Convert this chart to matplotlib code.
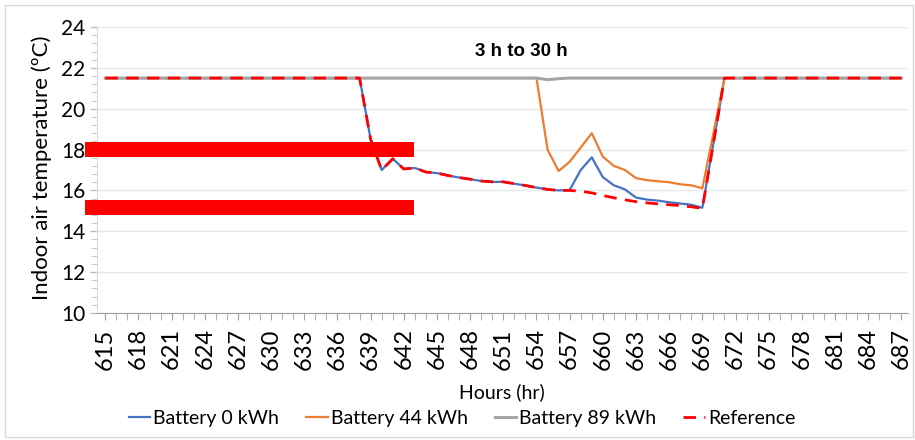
import matplotlib
matplotlib.use("Agg")
import matplotlib.pyplot as plt
from matplotlib.patches import Rectangle
import numpy as np

plt.rcParams['font.family'] = ['Lato', 'DejaVu Sans']

# hourly data, 615 h to 687 h
hours = np.arange(615, 688)

battery_0 = [
    21.5, 21.5, 21.5, 21.5, 21.5, 21.5, 21.5, 21.5, 21.5, 21.5, 21.5, 21.5,   # 615-626
    21.5, 21.5, 21.5, 21.5, 21.5, 21.5, 21.5, 21.5, 21.5, 21.5, 21.5, 21.5,   # 627-638
    18.5, 17.0, 17.55, 17.05, 17.1, 16.9, 16.85, 16.73, 16.63, 16.55, 16.46,  # 639-649
    16.42, 16.42, 16.33, 16.24, 16.14, 16.05, 16.0, 16.02, 17.0, 17.62,       # 650-659
    16.65, 16.25, 16.05, 15.65, 15.55, 15.5, 15.42, 15.36, 15.3, 15.15,       # 660-669
    18.3, 21.5, 21.5, 21.5, 21.5, 21.5, 21.5, 21.5, 21.5, 21.5,               # 670-679
    21.5, 21.5, 21.5, 21.5, 21.5, 21.5, 21.5, 21.5,                           # 680-687
]
battery_44 = [
    21.5, 21.5, 21.5, 21.5, 21.5, 21.5, 21.5, 21.5, 21.5, 21.5, 21.5, 21.5,   # 615-626
    21.5, 21.5, 21.5, 21.5, 21.5, 21.5, 21.5, 21.5, 21.5, 21.5, 21.5, 21.5,   # 627-638
    21.5, 21.5, 21.5, 21.5, 21.5, 21.5, 21.5, 21.5, 21.5, 21.5, 21.5,         # 639-649
    21.5, 21.5, 21.5, 21.5, 21.5, 18.0, 16.95, 17.4, 18.1, 18.8,              # 650-659
    17.65, 17.2, 17.0, 16.6, 16.5, 16.45, 16.4, 16.3, 16.25, 16.1,            # 660-669
    18.8, 21.5, 21.5, 21.5, 21.5, 21.5, 21.5, 21.5, 21.5, 21.5,               # 670-679
    21.5, 21.5, 21.5, 21.5, 21.5, 21.5, 21.5, 21.5,                           # 680-687
]
battery_89 = [
    21.5, 21.5, 21.5, 21.5, 21.5, 21.5, 21.5, 21.5, 21.5, 21.5, 21.5, 21.5,   # 615-626
    21.5, 21.5, 21.5, 21.5, 21.5, 21.5, 21.5, 21.5, 21.5, 21.5, 21.5, 21.5,   # 627-638
    21.5, 21.5, 21.5, 21.5, 21.5, 21.5, 21.5, 21.5, 21.5, 21.5, 21.5,         # 639-649
    21.5, 21.5, 21.5, 21.5, 21.5, 21.42, 21.47, 21.5, 21.5, 21.5,             # 650-659
    21.5, 21.5, 21.5, 21.5, 21.5, 21.5, 21.5, 21.5, 21.5, 21.5,               # 660-669
    21.5, 21.5, 21.5, 21.5, 21.5, 21.5, 21.5, 21.5, 21.5, 21.5,               # 670-679
    21.5, 21.5, 21.5, 21.5, 21.5, 21.5, 21.5, 21.5,                           # 680-687
]
reference = [
    21.5, 21.5, 21.5, 21.5, 21.5, 21.5, 21.5, 21.5, 21.5, 21.5, 21.5, 21.5,   # 615-626
    21.5, 21.5, 21.5, 21.5, 21.5, 21.5, 21.5, 21.5, 21.5, 21.5, 21.5, 21.5,   # 627-638
    18.5, 17.0, 17.55, 17.05, 17.1, 16.9, 16.85, 16.73, 16.63, 16.55, 16.46,  # 639-649
    16.42, 16.42, 16.33, 16.24, 16.14, 16.05, 16.0, 16.0, 15.96, 15.88,       # 650-659
    15.75, 15.64, 15.54, 15.45, 15.39, 15.34, 15.3, 15.26, 15.2, 15.12,       # 660-669
    18.3, 21.5, 21.5, 21.5, 21.5, 21.5, 21.5, 21.5, 21.5, 21.5,               # 670-679
    21.5, 21.5, 21.5, 21.5, 21.5, 21.5, 21.5, 21.5,                           # 680-687
]

# red highlight bars (temperature levels) and annotation
bar_levels = [18.0, 15.15]
bar_span = (613.2, 642.9)
note_text = "3 h to 30 h"

fig = plt.figure(figsize=(9.15, 4.4), dpi=100)
ax = fig.add_axes([97 / 915, 127 / 440, 811 / 915, 286 / 440])

ax.plot(hours, battery_0, color='#4472C4', lw=1.6, label='Battery 0 kWh', zorder=3)
ax.plot(hours, battery_44, color='#ED7D31', lw=1.6, label='Battery 44 kWh', zorder=4)
ax.plot(hours, battery_89, color='#A5A5A5', lw=2.2, label='Battery 89 kWh', zorder=5)
ax.plot(hours, reference, color='#FF0000', lw=2.0, ls=(0, (4.5, 3)), label='Reference', zorder=6)

for lvl in bar_levels:
    ax.add_patch(Rectangle((bar_span[0], lvl - 0.37), bar_span[1] - bar_span[0], 0.74,
                           facecolor='#FF0000', edgecolor='none', clip_on=False, zorder=7))

ax.text(652.6, 22.8, note_text, fontsize=13.5, fontweight='bold',
        family=['Liberation Sans', 'DejaVu Sans'], ha='center', va='center')

ax.set_xlim(614.25, 687.6)
ax.set_ylim(10, 24)
ax.set_xticks(np.arange(615, 688, 3))
ax.set_xticks(np.arange(615, 688, 1), minor=True)
ax.set_xticklabels([str(h) for h in range(615, 688, 3)], rotation=90, fontsize=17)
ax.set_yticks(np.arange(10, 25, 2))
ax.set_yticks(np.arange(10, 24.01, 0.4), minor=True)
ax.tick_params(axis='y', labelsize=15, length=5, color='#BFBFBF', width=1)
ax.tick_params(axis='y', which='minor', length=4, color='#BFBFBF')
ax.tick_params(axis='x', which='both', length=5, color='#A0A0A0', pad=6)
ax.grid(axis='y', color='#E8E8E8', lw=1)
ax.set_axisbelow(True)
for s in ['top', 'right']:
    ax.spines[s].set_visible(False)
ax.spines['left'].set_color('#D9D9D9')
ax.spines['bottom'].set_color('#A0A0A0')

fig.text(42 / 915, 1 - 168 / 440, 'Indoor air temperature (ºC)', rotation=90,
         fontsize=16, ha='center', va='center')
fig.text(502 / 915, 1 - 392 / 440, 'Hours (hr)', fontsize=14, ha='center', va='center')

fig.legend(loc='center', bbox_to_anchor=(462 / 915, 1 - 418 / 440), ncol=4, frameon=False,
           fontsize=14, handlelength=1.1, handletextpad=0.15, columnspacing=1.4)

fig.add_artist(Rectangle((5 / 915, 3 / 440), 908 / 915, 432 / 440, transform=fig.transFigure,
                         fill=False, edgecolor='#D9D9D9', lw=1))

fig.savefig('out.png', dpi=100)
